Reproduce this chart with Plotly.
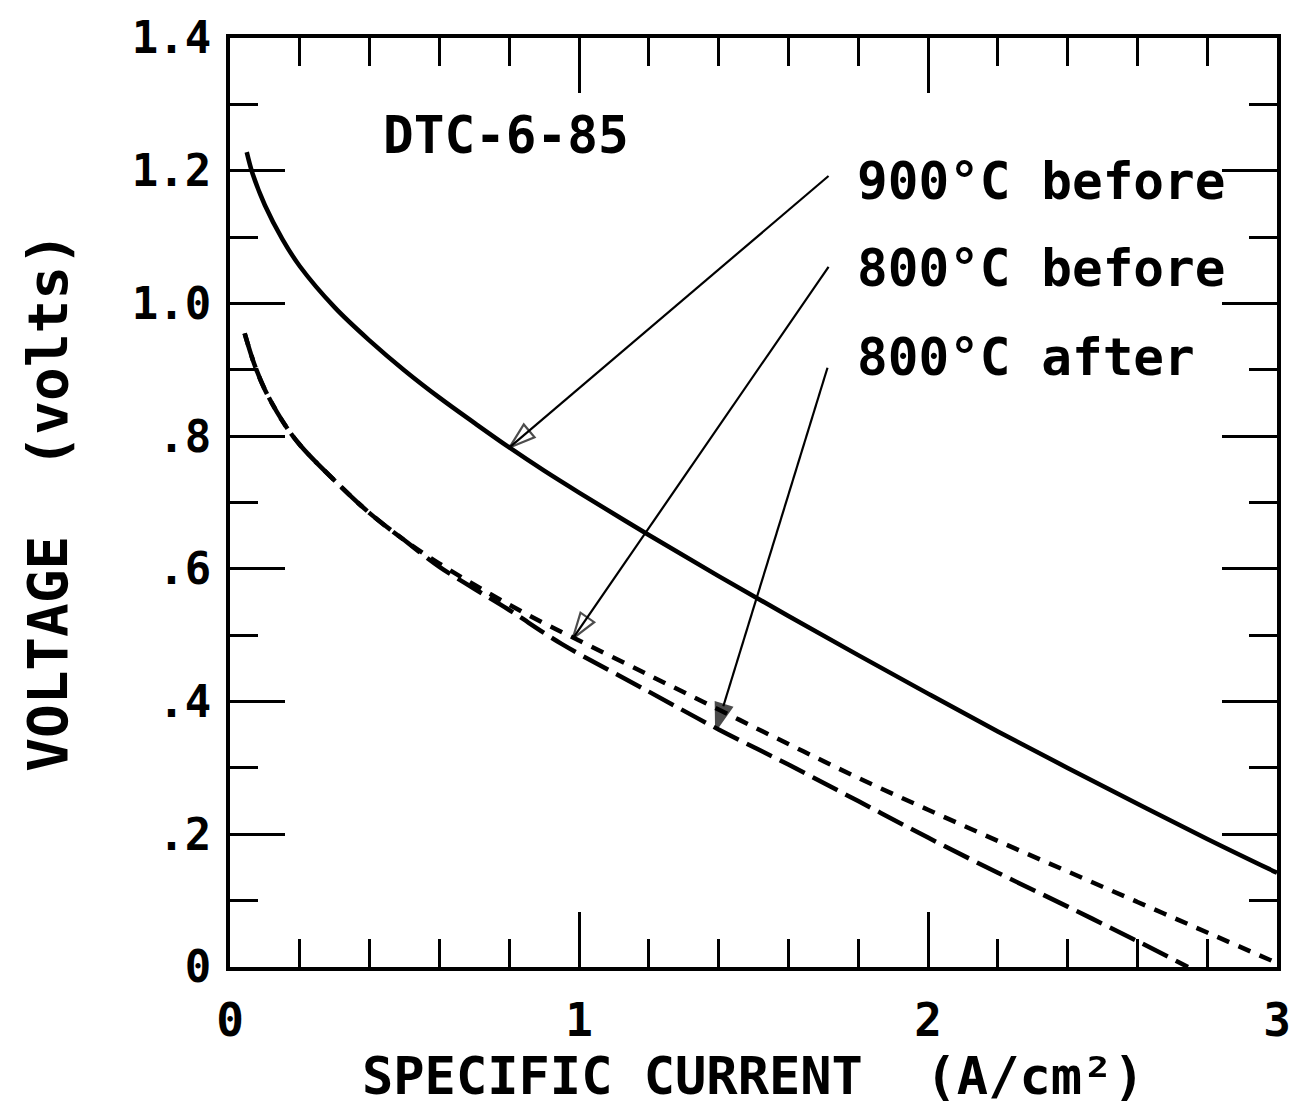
import plotly.graph_objects as go

# Current density (A/cm^2) and cell voltage (V) for each polarization curve
x_900_before = [0.048, 0.065, 0.10, 0.15, 0.20, 0.30, 0.40, 0.50, 0.60, 0.70, 0.80, 0.90,
                1.00, 1.20, 1.40, 1.60, 1.80, 2.00, 2.20, 2.40, 2.60, 2.80, 3.00]
v_900_before = [1.228, 1.195, 1.148, 1.097, 1.056, 0.994, 0.944, 0.899, 0.858, 0.820, 0.783, 0.748,
                0.715, 0.651, 0.589, 0.529, 0.470, 0.412, 0.355, 0.300, 0.246, 0.193, 0.142]

x_800_before = [0.042, 0.07, 0.10, 0.15, 0.20, 0.30, 0.40, 0.50, 0.60, 0.70, 0.80,
                0.90, 1.00, 1.20, 1.40, 1.60, 1.80, 2.00, 2.20, 2.40, 2.60, 2.80, 3.00]
v_800_before = [0.955, 0.908, 0.870, 0.823, 0.787, 0.733, 0.684, 0.643, 0.608, 0.576, 0.546,
                0.518, 0.492, 0.440, 0.388, 0.336, 0.285, 0.237, 0.190, 0.144, 0.098, 0.052, 0.006]

x_800_after = [0.042, 0.07, 0.10, 0.15, 0.20, 0.30, 0.40, 0.50, 0.60, 0.70, 0.80,
               0.95, 1.20, 1.40, 1.60, 1.80, 2.00, 2.20, 2.40, 2.60, 2.745]
v_800_after = [0.955, 0.908, 0.870, 0.823, 0.787, 0.733, 0.684, 0.643, 0.603, 0.570, 0.538,
               0.487, 0.415, 0.358, 0.305, 0.250, 0.195, 0.142, 0.091, 0.039, 0.0]

# Axis ticks
x_tick_vals = [0, 1, 2, 3]
x_tick_text = ["0", "1", "2", "3"]
y_tick_vals = [0, 0.2, 0.4, 0.6, 0.8, 1.0, 1.2, 1.4]
y_tick_text = ["0", ".2", ".4", ".6", ".8", "1.0", "1.2", "1.4"]

# Curve labels: text, label anchor (x, y), arrow start (x, y), arrow tip (x, y)
label_text = ["900°C before", "800°C before", "800°C after"]
label_x = [1.79, 1.79, 1.79]
label_y = [1.184, 1.052, 0.918]
arrow_x0 = [1.715, 1.715, 1.712]
arrow_y0 = [1.192, 1.055, 0.903]
arrow_x1 = [0.801, 0.982, 1.393]
arrow_y1 = [0.783, 0.495, 0.358]
arrow_heads = ["arrow-open", "arrow-open", "arrow"]

sample_name = "DTC-6-85"

FONT = "DejaVu Sans Mono"
INK = "black"

fig = go.Figure()

fig.add_trace(go.Scatter(x=x_900_before, y=v_900_before, mode="lines",
                         line=dict(color=INK, width=4.5, shape="spline", smoothing=1.0),
                         name="900°C before", showlegend=False))
fig.add_trace(go.Scatter(x=x_800_before, y=v_800_before, mode="lines",
                         line=dict(color=INK, width=4.5, dash="13px,10px",
                                   shape="spline", smoothing=1.0),
                         name="800°C before", showlegend=False))
fig.add_trace(go.Scatter(x=x_800_after, y=v_800_after, mode="lines",
                         line=dict(color=INK, width=4.5, dash="28px,9px",
                                   shape="spline", smoothing=1.0),
                         name="800°C after", showlegend=False))

# Pointer arrows from each label to its curve
for i in range(len(label_text)):
    fig.add_trace(go.Scatter(
        x=[arrow_x0[i], arrow_x1[i]], y=[arrow_y0[i], arrow_y1[i]],
        mode="lines+markers",
        line=dict(color=INK, width=2.2),
        marker=dict(symbol=["circle", arrow_heads[i]], size=[0, 27],
                    angleref="previous", color=INK,
                    line=dict(color=INK, width=2.2)),
        hoverinfo="skip", showlegend=False))

annotations = []
for i in range(len(label_text)):
    annotations.append(dict(x=label_x[i], y=label_y[i], xref="x", yref="y",
                            text=label_text[i], showarrow=False,
                            xanchor="left", yanchor="middle",
                            font=dict(family=FONT, size=51, color=INK, weight="bold")))
annotations.append(dict(x=0.433, y=1.253, xref="x", yref="y", text=sample_name,
                        showarrow=False, xanchor="left", yanchor="middle",
                        font=dict(family=FONT, size=51, color=INK, weight="bold")))
# Axis titles
annotations.append(dict(x=0.5, y=-0.117, xref="paper", yref="paper",
                        text="SPECIFIC CURRENT  (A/cm²)", showarrow=False,
                        xanchor="center", yanchor="middle",
                        font=dict(family=FONT, size=52, color=INK, weight="bold")))
annotations.append(dict(x=-0.1745, y=0.5, xref="paper", yref="paper",
                        text="VOLTAGE  (volts)", showarrow=False, textangle=-90,
                        xanchor="center", yanchor="middle",
                        font=dict(family=FONT, size=56, color=INK, weight="bold")))

axis_common = dict(showline=True, linecolor=INK, linewidth=4, mirror="allticks",
                   ticks="inside", tickcolor=INK, tickwidth=3, ticklen=55,
                   showgrid=False, zeroline=False)

fig.update_layout(
    width=1303, height=1106,
    margin=dict(l=230, r=13, t=33, b=139),
    paper_bgcolor="white", plot_bgcolor="white",
    xaxis=dict(range=[0, 3], tickvals=x_tick_vals, ticktext=x_tick_text,
               minor=dict(dtick=0.2, tick0=0, ticks="inside", ticklen=28,
                          tickwidth=3, tickcolor=INK),
               tickfont=dict(family=FONT, size=46, color=INK, weight="bold"),
               ticklabelstandoff=10, **axis_common),
    yaxis=dict(range=[0, 1.4], tickvals=y_tick_vals, ticktext=y_tick_text,
               minor=dict(dtick=0.1, tick0=0, ticks="inside", ticklen=28,
                          tickwidth=3, tickcolor=INK),
               tickfont=dict(family=FONT, size=44, color=INK, weight="bold"),
               ticklabelstandoff=6, **axis_common),
    annotations=annotations,
)

fig.write_html("out.html")
